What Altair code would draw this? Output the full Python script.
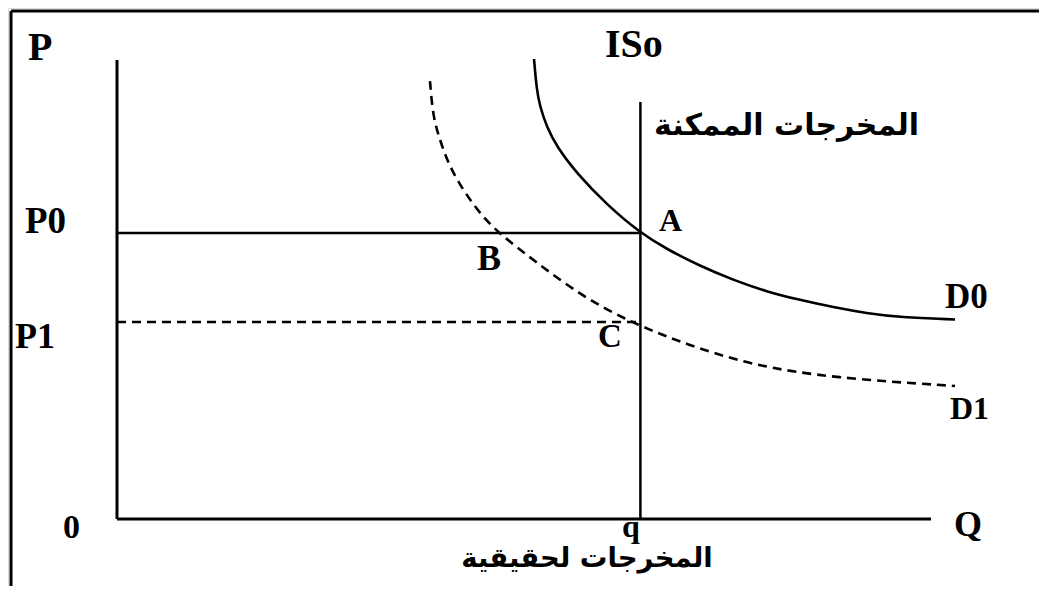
import altair as alt
import pandas as pd

# ---- values (Q = quantity, P = price level) ----
# demand curve D0 (solid)
d0_q = [51.23, 51.56, 51.97, 52.79, 54.02, 56.47, 60.20, 64.30, 67.53, 71.62, 75.71,
        79.82, 83.91, 88.00, 92.10, 96.19, 102.95]
d0_p = [100.22, 93.46, 89.83, 85.47, 81.11, 75.32, 68.41, 62.30, 58.80, 55.12, 52.07,
        49.52, 47.71, 46.12, 44.81, 43.94, 43.46]

# demand curve D1 (dashed)
d1_q = [38.45, 38.82, 39.68, 40.54, 41.77, 43.37, 44.96, 47.05, 51.11, 57.25, 62.65,
        65.85, 69.53, 77.76, 87.96, 102.95]
d1_p = [95.42, 87.58, 82.57, 78.21, 73.86, 69.50, 65.80, 62.09, 56.43, 48.37, 43.36,
        40.96, 38.34, 33.55, 30.72, 28.98]

q_star = 64.3        # potential output q
p0 = 62.3            # price level P0
p1 = 42.9            # price level P1
axis_q_max = 100
axis_p_max = 100
q_line_top = 90.85
frame_q = -13.02
frame_p = 110.68

label_text = ["P", "ISo", "P0", "A", "B", "C", "P1", "D0", "D1", "0", "q", "Q"]
label_q = [-10.93, 59.95, -11.30, 66.58, 44.23, 59.09, -12.53, 101.72, 102.33, -6.63, 62.04, 102.83]
label_p = [100.0, 100.65, 62.31, 62.75, 54.25, 37.47, 37.25, 45.97, 21.79, -4.14, -3.92, -3.70]
label_size = [40, 40, 37, 32, 36, 33, 36, 35, 32, 34, 32, 36]

arabic_text = ["المخرجات الممكنة", "المخرجات لحقيقية"]
arabic_q = [82.25, 57.74]
arabic_p = [83.66, -10.46]
arabic_size = [30, 27.5]

X_DOMAIN = [-13.391, 113.268]
Y_DOMAIN = [-14.597, 111.329]

xs = alt.Scale(domain=X_DOMAIN, nice=False, zero=False)
ys = alt.Scale(domain=Y_DOMAIN, nice=False, zero=False)

d0 = pd.DataFrame({"q": d0_q, "p": d0_p})
d1 = pd.DataFrame({"q": d1_q, "p": d1_p})

solid_seg = pd.DataFrame({
    "x":  [0, 0, q_star, 0, frame_q, frame_q],
    "y":  [0, 0, 0, p0, Y_DOMAIN[0], frame_p],
    "x2": [0, axis_q_max, q_star, q_star, frame_q, X_DOMAIN[1]],
    "y2": [axis_p_max, 0, q_line_top, p0, frame_p, frame_p],
    "w":  [3, 3, 2.5, 2.5, 3, 3],
})
dash_seg = pd.DataFrame({"x": [0], "y": [p1], "x2": [q_star], "y2": [p1]})

labels = pd.DataFrame({"t": label_text, "q": label_q, "p": label_p, "s": label_size})
arabic = pd.DataFrame({"t": arabic_text, "q": arabic_q, "p": arabic_p, "s": arabic_size})

X = alt.X("x:Q", scale=xs, axis=None)
Y = alt.Y("y:Q", scale=ys, axis=None)

solid = alt.Chart(solid_seg).mark_rule(color="black").encode(
    x=X, y=Y, x2="x2:Q", y2="y2:Q",
    strokeWidth=alt.StrokeWidth("w:Q", scale=None, legend=None),
)
dashed = alt.Chart(dash_seg).mark_rule(color="black", strokeWidth=2.5, strokeDash=[9, 6]).encode(
    x=X, y=Y, x2="x2:Q", y2="y2:Q",
)

curve0 = alt.Chart(d0).mark_line(color="black", strokeWidth=2.6, interpolate="basis").encode(
    x=alt.X("q:Q", scale=xs, axis=None), y=alt.Y("p:Q", scale=ys, axis=None)
)
curve1 = alt.Chart(d1).mark_line(color="black", strokeWidth=2.6, interpolate="basis",
                                 strokeDash=[9, 6]).encode(
    x=alt.X("q:Q", scale=xs, axis=None), y=alt.Y("p:Q", scale=ys, axis=None)
)

latin = alt.Chart(labels).mark_text(
    font="Liberation Serif", fontWeight="bold", align="left", baseline="alphabetic", color="black"
).encode(
    x=alt.X("q:Q", scale=xs, axis=None), y=alt.Y("p:Q", scale=ys, axis=None),
    text="t:N", size=alt.Size("s:Q", scale=None, legend=None),
)
arab = alt.Chart(arabic).mark_text(
    font="DejaVu Sans", fontWeight="bold", align="center", baseline="alphabetic", color="black"
).encode(
    x=alt.X("q:Q", scale=xs, axis=None), y=alt.Y("p:Q", scale=ys, axis=None),
    text="t:N", size=alt.Size("s:Q", scale=None, legend=None),
)

chart = alt.layer(solid, dashed, curve0, curve1, latin, arab).properties(
    width=1031, height=578, padding=0,
    autosize=alt.AutoSizeParams(type="none"),
).configure_view(stroke=None).configure(background="white")

chart.save("out.html", embed_options={"renderer": "svg", "actions": False})
